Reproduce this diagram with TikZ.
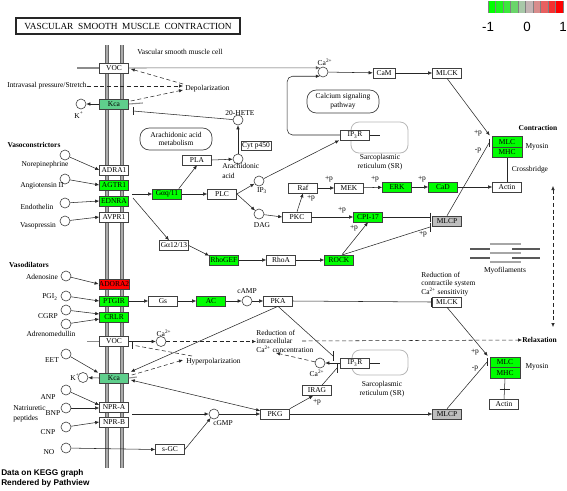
\documentclass[tikz,border=0pt]{standalone}
\usepackage{fontspec}
\setmainfont{Liberation Serif}
\newfontfamily\lsans{Liberation Sans}
\usetikzlibrary{arrows.meta,calc}
\newcommand\kgfont{\fontsize{5.6}{6.5}\selectfont}
\definecolor{kgreen}{HTML}{00FF00}
\definecolor{kcagreen}{HTML}{5FCE8C}
\definecolor{kgray}{HTML}{BEBEBE}
\definecolor{kred}{HTML}{FF0000}
\definecolor{L0}{HTML}{00FF00}
\definecolor{L1}{HTML}{1CF51C}
\definecolor{L2}{HTML}{3CE83C}
\definecolor{L3}{HTML}{6AD56A}
\definecolor{L4}{HTML}{A8C8A8}
\definecolor{L5}{HTML}{C4B4B4}
\definecolor{L6}{HTML}{D88C8C}
\definecolor{L7}{HTML}{E86060}
\definecolor{L8}{HTML}{F43030}
\definecolor{L9}{HTML}{FF0000}
\begin{document}
\begin{tikzpicture}[x=0.75pt,y=-0.75pt,
  gene/.style={draw=black!75, line width=0.45pt, rectangle, minimum width=21.75pt, minimum height=7.5pt, inner sep=0pt, font=\kgfont, fill=white},
  cpd/.style={draw=black!75, line width=0.45pt, circle, minimum size=7.5pt, inner sep=0pt, fill=white},
  lbl/.style={font=\kgfont, inner sep=0pt},
  blbl/.style={font=\kgfont\bfseries, inner sep=0pt},
  act/.style={-{Latex[length=3pt,width=2.6pt]}, line width=0.4pt, black!85},
  plain/.style={line width=0.4pt, black!85},
  dact/.style={act, dash pattern=on 3pt off 2pt},
  dplain/.style={plain, dash pattern=on 3pt off 2pt},
  stub/.style={line width=0.8pt, black!45},
  sr/.style={draw=black!28, line width=0.6pt, rounded corners=6pt, fill=white},
  pw/.style={draw=black!75, line width=0.5pt, rounded corners=7pt, font=\kgfont, align=center, inner sep=0pt}
]
\useasboundingbox (0,0) rectangle (567,490);
\fill[white] (0,0) rectangle (567,490);

% ---------- title and legend
\node[draw=black!85, line width=0.9pt, minimum width=168pt, minimum height=12pt, inner sep=0pt, font=\fontsize{7}{8}\selectfont] (title) at (128,26) {VASCULAR\ \ SMOOTH\ \ MUSCLE\ \ CONTRACTION};
\foreach \c [count=\i from 0] in {L0,L1,L2,L3,L4,L5,L6,L7,L8,L9}
  \fill[\c] (488+7.5*\i,1) rectangle ++(7.5,12);
\foreach \i in {0,...,10}
  \draw[black!50, line width=0.4pt] (488+7.5*\i,1) -- ++(0,12);
\node[font=\lsans\fontsize{10}{12}\selectfont, inner sep=0pt] (lm) at (488,27) {-1};
\node[font=\lsans\fontsize{10}{12}\selectfont, inner sep=0pt] (l0) at (527,27) {0};
\node[font=\lsans\fontsize{10}{12}\selectfont, inner sep=0pt] (l1) at (563,27) {1};

% ---------- membrane
\foreach \mx in {107,122}{
  \draw[line width=3pt, black!60] (\mx,45) -- (\mx,468);
  \draw[line width=1.6pt, black!33] (\mx,45) -- (\mx,468);
}

% ---------- background boxes
\draw[sr] (351,122) rectangle (408,153);
\draw[sr] (352,350) rectangle (408,375);
\node[pw, minimum width=54pt, minimum height=17.25pt] (csp) at (343,101.5) {Calcium signaling\\pathway};
\node[pw, minimum width=54pt, minimum height=16.5pt] (aam) at (176,139) {Arachidonic acid\\metabolism};

% ---------- genes
\node[gene] (vocA) at (114,68) {VOC};
\node[gene, fill=kcagreen] (kcaA) at (114,104) {Kca};
\node[gene] (adra1) at (114,170) {ADRA1};
\node[gene, fill=kgreen] (agtr1) at (114,185) {AGTR1};
\node[gene, fill=kgreen] (ednra) at (114,201) {EDNRA};
\node[gene] (avpr1) at (114,217) {AVPR1};
\node[gene, fill=kred] (adora2) at (114,284) {ADORA2};
\node[gene, fill=kgreen] (ptgir) at (114,301) {PTGIR};
\node[gene, fill=kgreen] (crlr) at (114,317) {CRLR};
\node[gene] (vocB) at (114,341.5) {VOC};
\node[gene, fill=kcagreen] (kcaB) at (114,378) {Kca};
\node[gene] (npra) at (114,407) {NPR-A};
\node[gene] (nprb) at (114,422) {NPR-B};

\node[gene, fill=kgreen] (gaq) at (167,194) {Gαq/11};
\node[gene] (pla) at (197,160) {PLA};
\node[gene] (plc) at (222,194) {PLC};
\node[gene] (ga1213) at (174,245.5) {Gα12/13};
\node[gene, fill=kgreen] (rhogef) at (224,260) {RhoGEF};
\node[gene] (rhoa) at (281,260) {RhoA};
\node[gene, fill=kgreen] (rock) at (339,260) {ROCK};
\node[gene] (pkc) at (297,217) {PKC};
\node[gene] (raf) at (303,188) {Raf};
\node[gene] (mek) at (349,188) {MEK};
\node[gene, fill=kgreen] (erk) at (397,187) {ERK};
\node[gene, fill=kgreen] (cad) at (443,187) {CaD};
\node[gene] (actinA) at (507,187) {Actin};
\node[gene, fill=kgreen] (cpi) at (368,217) {CPI-17};
\node[gene, fill=kgray] (mlcpA) at (447,221) {MLCP};
\node[gene, minimum width=22.5pt, minimum height=6.75pt] (cyt) at (256,145.5) {Cyt p450};
\node[gene] (ip3rA) at (355,135) {IP\textsubscript{3}R};
\node[gene, minimum width=16.5pt] (cam) at (384,73) {CaM};
\node[gene] (mlckA) at (447,73) {MLCK};
\node[gene, fill=kgreen, minimum width=22.5pt, minimum height=7.9pt] (mlcA) at (507,142) {MLC};
\node[gene, fill=kgreen, minimum width=22.5pt, minimum height=7.9pt] (mhcA) at (507,152.5) {MHC};

\node[gene] (gs) at (163,301) {Gs};
\node[gene, fill=kgreen] (ac) at (211,301) {AC};
\node[gene] (pka) at (278,301) {PKA};
\node[gene] (mlckB) at (447,302) {MLCK};
\node[gene] (ip3rB) at (355,363) {IP\textsubscript{3}R};
\node[gene] (irag) at (317,390.5) {IRAG};
\node[gene] (pkg) at (275,414) {PKG};
\node[gene, fill=kgray] (mlcpB) at (447,414) {MLCP};
\node[gene, fill=kgreen, minimum width=22.5pt, minimum height=7.9pt] (mlcB) at (505,362.5) {MLC};
\node[gene, fill=kgreen, minimum width=22.5pt, minimum height=7.9pt] (mhcB) at (505,373) {MHC};
\node[gene] (actinB) at (504,404.5) {Actin};
\node[gene] (sgc) at (170,449.5) {s-GC};

% ---------- compounds
\node[cpd] (caA) at (323,72) {};
\node[cpd] (kA) at (81,104) {};
\node[cpd] (hete) at (238,120) {};
\node[cpd] (aa) at (238,159) {};
\node[cpd] (ip3) at (259,181) {};
\node[cpd] (dag) at (259,214) {};
\node[cpd] (camp) at (247,301) {};
\node[cpd] (caB) at (161,341.5) {};
\node[cpd] (caC) at (320,363) {};
\node[cpd] (kB) at (83,377.5) {};
\node[cpd] (cgmp) at (214,414) {};
\node[cpd] (ne) at (65,155) {};
\node[cpd] (ang) at (65,179) {};
\node[cpd] (et) at (65,203) {};
\node[cpd] (vp) at (65,221) {};
\node[cpd] (ado) at (66,276) {};
\node[cpd] (pgi) at (66,296) {};
\node[cpd] (cgrp) at (66,310) {};
\node[cpd] (adm) at (66,324) {};
\node[cpd] (eet) at (66,354) {};
\node[cpd] (anp) at (66,390) {};
\node[cpd] (bnp) at (66,408) {};
\node[cpd] (cnp) at (66,427) {};
\node[cpd] (no) at (66,448) {};

% ---------- labels
\node[lbl] (vsmc) at (180,52) {Vascular smooth muscle cell};
\node[lbl, anchor=west] (stretch) at (7,86) {Intravasal pressure/Stretch};
\node[lbl, anchor=west] (depol) at (185,89) {Depolarization};
\node[lbl] (kAl) at (79,115) {K\textsuperscript{+}};
\node[blbl] (vc) at (34,145) {Vasoconstrictors};
\node[lbl] (nel) at (45,165) {Norepinephrine};
\node[lbl] (angl) at (42,186) {Angiotensin II};
\node[lbl] (etl) at (37,207) {Endothelin};
\node[lbl] (vpl) at (38,226) {Vasopressin};
\node[lbl] (hetel) at (240,113) {20-HETE};
\node[lbl, anchor=north west, align=left, font=\fontsize{5.6}{6.8}\selectfont] (aal) at (222,163.5) {Arachidonic\\acid};
\node[lbl] (ip3l) at (262,190.5) {IP\textsubscript{3}};
\node[lbl] (dagl) at (262,225) {DAG};
\node[blbl] (vd) at (29,265) {Vasodilators};
\node[lbl] (adol) at (42,277) {Adenosine};
\node[lbl] (pgil) at (50,297) {PGI\textsubscript{2}};
\node[lbl] (cgrpl) at (48,316) {CGRP};
\node[lbl] (adml) at (51,334) {Adrenomedullin};
\node[lbl] (campl) at (247,291.5) {cAMP};
\node[lbl] (caAl) at (325,62) {Ca\textsuperscript{2+}};
\node[lbl] (caBl) at (164,333) {Ca\textsuperscript{2+}};
\node[lbl] (caCl) at (317,373) {Ca\textsuperscript{2+}};
\node[lbl] (eetl) at (52,360) {EET};
\node[lbl] (kBl) at (75,377) {K\textsuperscript{+}};
\node[lbl, anchor=west] (hyp) at (186,362) {Hyperpolarization};
\node[lbl, anchor=north west, align=left, font=\fontsize{5.6}{6.6}\selectfont] (red) at (256,329.5) {Reduction of\\intracellular\\Ca\textsuperscript{2+} concentration};
\node[lbl] (anpl) at (48,397) {ANP};
\node[lbl] (bnpl) at (53,413) {BNP};
\node[lbl] (cnpl) at (48,432) {CNP};
\node[lbl] (nol) at (49,452) {NO};
\node[lbl, anchor=north west, align=left, font=\fontsize{5.6}{7.2}\selectfont] (natl) at (13,405.5) {Natriuretic\\peptides};
\node[lbl] (cgmpl) at (223,423) {cGMP};
\node[lbl, align=center, font=\fontsize{5.6}{7.2}\selectfont] (srAl) at (380,162) {Sarcoplasmic\\reticulum (SR)};
\node[lbl, align=center, font=\fontsize{5.6}{7.2}\selectfont] (srBl) at (382,389) {Sarcoplasmic\\reticulum (SR)};
\node[blbl] (contr) at (538,128) {Contraction};
\node[lbl] (myoA) at (537,147) {Myosin};
\node[lbl] (cross) at (530,170) {Crossbridge};
\node[lbl] (myof) at (505,271) {Myofilaments};
\node[lbl, anchor=north west, align=left, font=\fontsize{5.6}{6.6}\selectfont] (redc) at (421,271.5) {Reduction of\\contractile system\\Ca\textsuperscript{2+} sensitivity};
\node[blbl, anchor=west] (relax) at (522,340) {Relaxation};
\node[lbl] (myoB) at (537,367) {Myosin};
\node[font=\lsans\bfseries\fontsize{6.2}{7.4}\selectfont, anchor=north west, align=left, inner sep=0pt] (foot) at (1,469.5) {Data on KEGG graph\\Rendered by Pathview};

% +p labels
\node[lbl] at (478,133) {+p};
\node[lbl] at (478,151) {-p};
\node[lbl] at (329,179) {+p};
\node[lbl] at (375,179) {+p};
\node[lbl] at (422,179) {+p};
\node[lbl] at (311,198) {+p};
\node[lbl] at (342,210) {+p};
\node[lbl] at (354,228) {+p};
\node[lbl] at (423,234) {+p};
\node[lbl] at (317,402) {+p};
\node[lbl] at (475,352) {+p};
\node[lbl] at (475,369) {-p};

% ---------- myofilaments
\draw[line width=1.4pt, black!35] (490,244) -- (521,244) (490,253) -- (521,253) (490,262) -- (521,262);
\draw[line width=1.4pt, black!65] (470,249) -- (490,249) (512,249) -- (540,249) (470,258) -- (490,258) (512,258) -- (540,258);

% ---------- membrane stubs
\draw[stub] (vocA.west) -- ++(-22,0);
\draw[stub] (kcaA.east) -- ++(14,-1);
\draw[stub] (vocB.west) -- ++(-12,0);
\draw[stub] (kcaB.east) -- ++(8,-1);
\draw[plain] (ip3rA.east) -- ++(10,0);
\draw[plain] (ip3rB.east) -- ++(10,0);

% ---------- coordinates for free ends
\coordinate (tHete) at (133,111);
\coordinate (tCpi) at (430,217);
\coordinate (tRock) at (430,227);
\coordinate (tPkaM) at (431,302);
\coordinate (tPkaI) at (333,356);
\coordinate (tIrag) at (337,368);
\coordinate (tMlcpA) at (489,143);
\coordinate (tMlcpB) at (487,362);
\coordinate (tHyp) at (132,345);
\coordinate (gqs) at (132,194);
\coordinate (g12s) at (133,198);
\coordinate (nprs) at (132,414);
\coordinate (relS) at (302,341);
\coordinate (dTop) at (553,186);
\coordinate (dBot) at (553,327);

% ---------- edges: top
\draw[act, black!65] (vocA.east) -- (caA.127);
\draw[act, rounded corners=4pt] (ip3rA.west) -- ++(-53,0) |- (caA.233);
\draw[act] (caA) -- (cam);
\draw[act] (cam) -- (mlckA);
\draw[act] (mlckA.south) -- ($(mlcA.north west)+(-2,-1)$);
\draw[plain] (mlcpA.north) -- (tMlcpA);
\draw[plain] ($(tMlcpA)+(0,-4)$) -- ($(tMlcpA)+(0,4)$);
\draw[plain] (mhcA.south) -- (actinA.north);

\draw[dact] (stretch.east) -- ($(depol.west)+(-2,-3)$);
\draw[dact] ($(kcaA.east)+(2,-3)$) -- ($(depol.west)+(-2,1)$);
\draw[dact] ($(depol.west)+(-2,-5)$) -- ($(vocA.east)+(2,1)$);
\draw[act] (kcaA.west) -- (kA);
\draw[plain] (hete) -- (tHete);
\draw[plain] ($(tHete)+(0,-4)$) -- ($(tHete)+(0,4)$);

\draw[act] (ne) -- (adra1.west);
\draw[act] (ang) -- (agtr1.west);
\draw[act] (et) -- (ednra.west);
\draw[act] (vp) -- (avpr1.west);
\draw[act] (gqs) -- (gaq.west);
\draw[act] (g12s) -- ($(ga1213.north)+(-5,0)$);
\draw[act] (ga1213.east) -- ($(rhogef.north west)+(0,1)$);
\draw[act] ($(gaq.north east)+(-3,0)$) -- (pla.south);
\draw[act] (gaq.east) -- (plc.west);
\draw[act] (pla.east) -- (aa);
\draw[act] (aa) -- (hete);
\draw[act] (plc.east) -- (ip3);
\draw[act] (plc.east) -- (dag);
\draw[act] (ip3) -- ($(ip3rA.south west)+(-1,0)$);
\draw[act] (dag) -- (pkc.west);
\draw[act] (pkc.north) -- (raf.south);
\draw[act] (raf) -- (mek);
\draw[act] (mek) -- (erk);
\draw[act] (erk) -- (cad);
\draw[act] (cad) -- (actinA);
\draw[act] (pkc) -- (cpi);
\draw[plain] (cpi.east) -- (tCpi);
\draw[plain] ($(tCpi)+(0,-4.5)$) -- ($(tCpi)+(0,4.5)$);
\draw[act] ($(rock.north)+(3,0)$) -- (cpi.south);
\draw[plain] ($(rock.north)+(4,0)$) -- (tRock);
\draw[plain] ($(tRock)+(0,-4.5)$) -- ($(tRock)+(0,4.5)$);
\draw[act] (rhogef) -- (rhoa);
\draw[act] (rhoa) -- (rock);

% ---------- edges: bottom
\draw[act] (ado) -- (adora2.west);
\draw[act] (pgi) -- (ptgir.west);
\draw[act] (cgrp) -- ($(crlr.west)+(0,-3)$);
\draw[act] (adm) -- ($(crlr.west)+(0,2)$);
\draw[act] (ptgir) -- (gs);
\draw[act] (gs) -- (ac);
\draw[act] (ac) -- (camp);
\draw[act] (camp) -- (pka);
\draw[plain] (pka.east) -- (tPkaM);
\draw[plain] ($(tPkaM)+(0,-4.5)$) -- ($(tPkaM)+(0,4.5)$);
\draw[act] (pka.south) -- ($(kcaB.north east)+(2,-1)$);
\draw[plain] (pka.south) -- (tPkaI);
\draw[plain] ($(tPkaI)+(0,-5)$) -- ($(tPkaI)+(0,5)$);

\draw[act] (vocB.east) -- (caB);
\draw[dact] (caB) -- (caB -| red.west);
\draw[dact] (relS) -- (relax.west);
\draw[act] (kcaB.west) -- (kB);
\draw[dact] ($(kcaB.east)+(3,-3)$) -- ($(hyp.west)+(-3,-2)$);
\draw[dplain] ($(hyp.west)+(6,-6)$) -- (tHyp);
\draw[plain] ($(tHyp)+(0,-4)$) -- ($(tHyp)+(0,4)$);
\draw[act] (eet) -- ($(kcaB.north west)+(-1,0)$);

\draw[act] (anp) -- ($(npra.west)+(0,-2)$);
\draw[act] (bnp) -- ($(npra.west)+(0,1)$);
\draw[act] (cnp) -- (nprb.west);
\draw[act] (no) -- (sgc.west);
\draw[act] (nprs) -- (cgmp);
\draw[act] (sgc.east) -- (cgmp);
\draw[act] (cgmp) -- (pkg.west);
\draw[{Latex[length=3pt,width=2.6pt]}-{Latex[length=3pt,width=2.6pt]}, line width=0.4pt, black!85] ($(pkg.north west)+(0,2)$) -- ($(kcaB.east)+(2,2)$);
\draw[act] (pkg.north east) -- ($(irag.south)+(-4,0)$);
\draw[plain] ($(irag.north)+(5,0)$) -- (tIrag);
\draw[plain] ($(tIrag)+(0,-5)$) -- ($(tIrag)+(0,5)$);
\draw[act] (ip3rB.west) -- (caC);
\draw[dact] (caC) -- ($(red.south west)+(20,0)$);
\draw[act] (pkg.east) -- (mlcpB.west);
\draw[plain] (mlcpB.north) -- (tMlcpB);
\draw[plain] ($(tMlcpB)+(0,-4)$) -- ($(tMlcpB)+(0,4)$);
\draw[act] (mlckB.south) -- ($(mlcB.north west)+(-2,-1)$);
\draw[plain] (mhcB.south) -- (actinB.north);
\draw[plain] ($(mhcB.south)!0.5!(actinB.north)+(-5,0)$) -- ++(10,0);

\draw[{Latex[length=3pt,width=2.6pt]}-{Latex[length=3pt,width=2.6pt]}, line width=0.4pt, black!85, dash pattern=on 3pt off 2pt] (dTop) -- (dBot);
\end{tikzpicture}
\end{document}
